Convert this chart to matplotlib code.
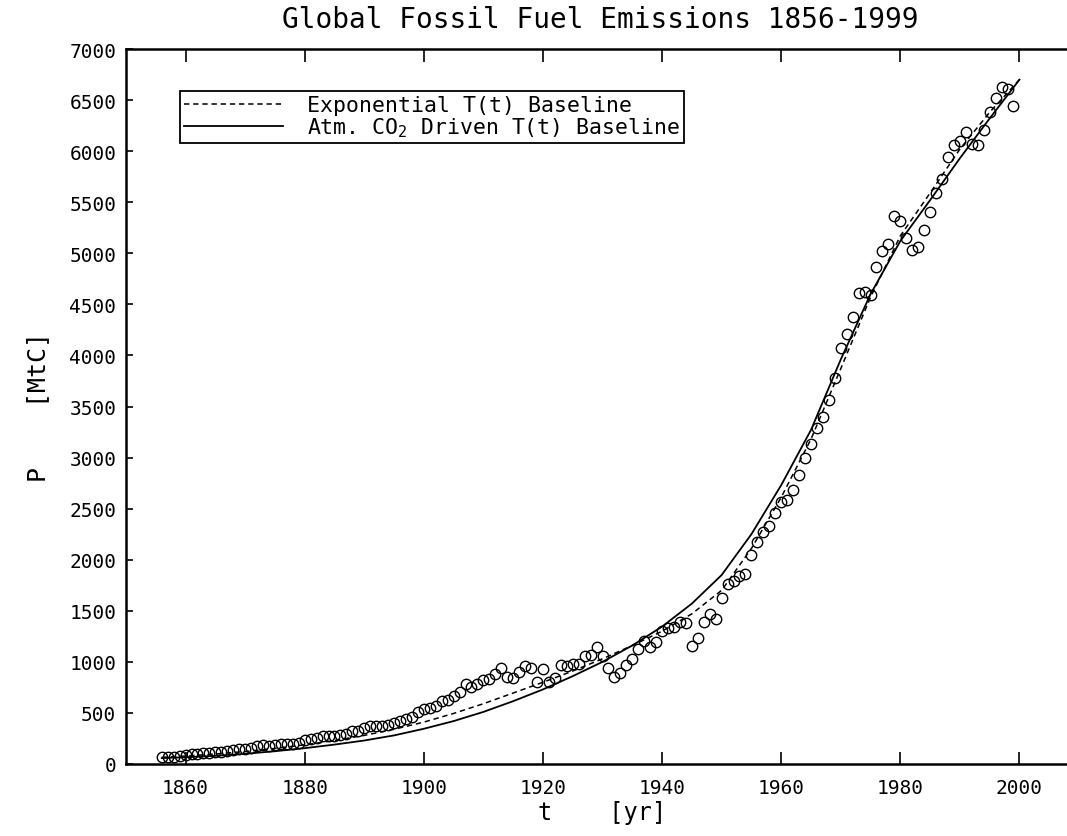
import matplotlib
matplotlib.use("Agg")
import matplotlib.pyplot as plt

# annual global emissions, MtC
years = list(range(1856, 2000))
emissions = [
    70, 72, 72, 77, 91, 95, 96, 103, 112, 119,
    122, 130, 135, 142, 147, 156, 173, 184, 174, 188,
    191, 194, 196, 210, 236, 243, 256, 272, 275, 277,
    281, 295, 327, 327, 356, 372, 374, 370, 383, 406,
    419, 440, 465, 507, 534, 552, 566, 617, 624, 663,
    707, 784, 750, 785, 819, 836, 879, 943, 850, 838,
    901, 955, 936, 806, 932, 803, 845, 970, 963, 975,
    983, 1062, 1065, 1145, 1053, 940, 847, 893, 973, 1027,
    1130, 1209, 1142, 1192, 1299, 1334, 1342, 1391, 1383, 1160,
    1238, 1392, 1469, 1419, 1630, 1767, 1795, 1841, 1865, 2043,
    2177, 2270, 2330, 2454, 2569, 2580, 2686, 2833, 2995, 3130,
    3288, 3393, 3566, 3780, 4076, 4208, 4376, 4614, 4623, 4596,
    4864, 5026, 5087, 5369, 5315, 5152, 5033, 5062, 5231, 5408,
    5591, 5723, 5945, 6058, 6096, 6185, 6068, 6062, 6210, 6385,
    6522, 6625, 6610, 6445,
]

# model baselines, read every 5 years
fit_years = [1856, 1860, 1865, 1870, 1875, 1880, 1885, 1890, 1895, 1900,
             1905, 1910, 1915, 1920, 1925, 1930, 1935, 1940, 1945, 1950,
             1955, 1960, 1965, 1970, 1975, 1980, 1985, 1990, 1995, 2000]
exp_baseline = [65, 78, 98, 122, 152, 188, 230, 280, 340, 410,
                495, 590, 695, 800, 910, 1030, 1160, 1300, 1470, 1700,
                2110, 2610, 3180, 3870, 4570, 5170, 5590, 6020, 6380, 6700]
co2_baseline = [58, 66, 80, 100, 125, 155, 190, 230, 280, 345,
                420, 510, 615, 730, 860, 1000, 1160, 1345, 1570, 1850,
                2250, 2730, 3270, 3960, 4600, 5120, 5520, 5930, 6320, 6700]

xticks = list(range(1860, 2001, 20))
yticks = list(range(0, 7001, 500))

plt.rcParams['font.family'] = ['DejaVu Sans Mono']
plt.rcParams['mathtext.fontset'] = 'custom'
plt.rcParams['mathtext.rm'] = 'DejaVu Sans Mono'
plt.rcParams['mathtext.default'] = 'rm'

fig = plt.figure(figsize=(10.67, 8.37), dpi=100)
ax = fig.add_axes([126 / 1067, 72 / 837, 953 / 1067, 715 / 837])

ax.plot(years, emissions, 'o', mfc='none', mec='black', ms=7.5, mew=1.0, zorder=3)
ax.plot(fit_years, exp_baseline, color='black', lw=1.1, ls=(0, (3.5, 2.5)),
        label='Exponential T(t) Baseline')
ax.plot(fit_years, co2_baseline, color='black', lw=1.3, ls='-',
        label='Atm. CO$_2$ Driven T(t) Baseline')

ax.set_xlim(1850, 2010)
ax.set_ylim(0, 7000)
ax.set_xticks(xticks)
ax.set_yticks(yticks)
ax.tick_params(axis='x', direction='in', length=9, width=1.2, top=True,
               labelsize=14, pad=10)
ax.tick_params(axis='y', direction='in', length=5, width=1.2,
               labelsize=14, pad=7)
for side in ['left', 'bottom', 'top']:
    ax.spines[side].set_linewidth(1.8)
ax.spines['right'].set_visible(False)

ax.set_xlabel('t    [yr]', fontsize=17, labelpad=2)
ax.set_ylabel('P    [MtC]', fontsize=18, labelpad=14)
fig.text(600 / 1067, 1 - 20 / 837, 'Global Fossil Fuel Emissions 1856-1999',
         fontsize=20, ha='center', va='center')

leg = ax.legend(loc='upper left', bbox_to_anchor=(54 / 953, 673 / 715),
                borderaxespad=0, fancybox=False, edgecolor='black',
                fontsize=15.5, handlelength=4.6, handletextpad=1.1,
                borderpad=0.2, labelspacing=0.0, framealpha=1)
leg.get_frame().set_linewidth(1.3)

fig.savefig('out.png', dpi=100)
